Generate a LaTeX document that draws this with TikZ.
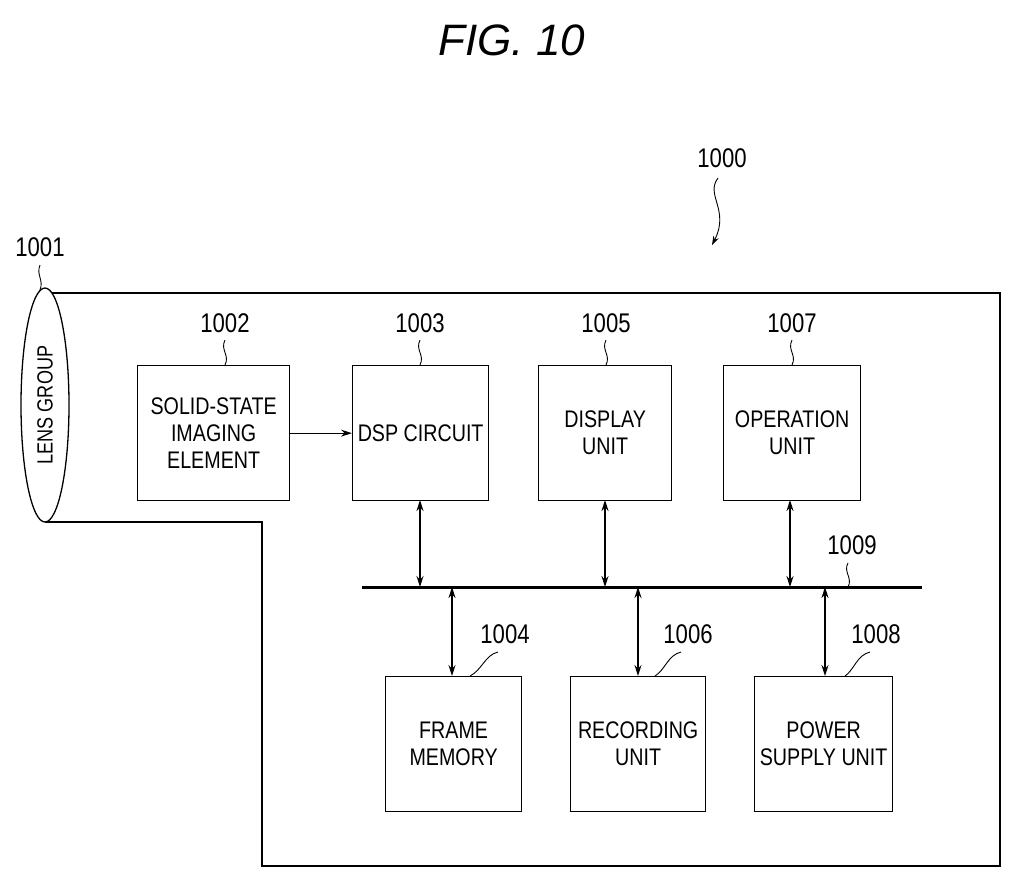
\documentclass[tikz,border=0pt]{standalone}
\usepackage{fontspec}
\setmainfont{Liberation Sans}[FakeStretch=0.82]
\newfontfamily\titlefont{Liberation Sans}
\usetikzlibrary{arrows.meta,shapes.geometric}
\begin{document}
\begin{tikzpicture}[x=1pt,y=-1pt,
  box/.style={draw,line width=1.3pt,align=center,font=\fontsize{24}{27}\selectfont},
  lbl/.style={font=\fontsize{27}{30}\selectfont},
  lead/.style={line width=0.9pt},
  arr/.style={line width=1.3pt,{Stealth[length=11pt,width=7pt]}-{Stealth[length=11pt,width=7pt]}}]
\useasboundingbox (0,0) rectangle (1024,879);
\node[font=\titlefont\itshape\fontsize{44}{48}\selectfont] (title) at (512,40) {FIG. 10};
\draw[line width=1.3pt] (45,293) -- (1000,293) -- (1000,866) -- (262,866) -- (262,522) -- (45,522);
\node[draw,ellipse,line width=1.3pt,fill=white,minimum width=48pt,minimum height=234pt] (lens) at (45,405) {};
\node[rotate=90,font=\fontsize{22}{24}\selectfont] (lenst) at (45,405) {LENS GROUP};
\node[box,minimum width=152pt,minimum height=135pt,anchor=north west] (b1002) at (137,365) {SOLID-STATE\\IMAGING\\ELEMENT};
\node[box,minimum width=136pt,minimum height=135pt,anchor=north west] (b1003) at (352,365) {DSP CIRCUIT};
\node[box,minimum width=133pt,minimum height=135pt,anchor=north west] (b1005) at (538,365) {DISPLAY\\UNIT};
\node[box,minimum width=137pt,minimum height=135pt,anchor=north west] (b1007) at (723,365) {OPERATION\\UNIT};
\node[box,minimum width=136pt,minimum height=135pt,anchor=north west] (b1004) at (385,676) {FRAME\\MEMORY};
\node[box,minimum width=135pt,minimum height=135pt,anchor=north west] (b1006) at (570,676) {RECORDING\\UNIT};
\node[box,minimum width=138pt,minimum height=135pt,anchor=north west] (b1008) at (754,676) {POWER\\SUPPLY UNIT};
\coordinate (busL) at (362,587); \coordinate (busR) at (922,587);
\draw[line width=3pt] (busL) -- (busR);
\draw[line width=1.3pt,-{Stealth[length=11pt,width=7pt]}] (b1002.east) -- (b1003.west);
\draw[arr] (420,500) -- (420,587);
\draw[arr] (605,500) -- (605,587);
\draw[arr] (790,500) -- (790,587);
\draw[arr] (452,587) -- (452,676);
\draw[arr] (638,587) -- (638,676);
\draw[arr] (825,587) -- (825,676);
\node[lbl] (n1001) at (40,247) {1001};
\node[lbl] (n1002) at (225,323) {1002};
\node[lbl] (n1003) at (420,323) {1003};
\node[lbl] (n1005) at (606,323) {1005};
\node[lbl] (n1007) at (792,323) {1007};
\node[lbl] (n1009) at (852,545) {1009};
\node[lbl] (n1004) at (505,634) {1004};
\node[lbl] (n1006) at (688,634) {1006};
\node[lbl] (n1008) at (876,634) {1008};
\node[lbl] (n1000) at (722,158) {1000};
\draw[lead] (40,265) .. controls (36,275) and (44,280) .. (40,290);
\draw[lead] (225,340) .. controls (220,350) and (230,355) .. (225,365);
\draw[lead] (420,340) .. controls (415,350) and (425,355) .. (420,365);
\draw[lead] (606,340) .. controls (601,350) and (611,355) .. (606,365);
\draw[lead] (792,340) .. controls (787,350) and (797,355) .. (792,365);
\draw[lead] (848,563) .. controls (843,572) and (853,578) .. (848,587);
\draw[lead] (498,652) .. controls (485,655) and (482,670) .. (470,676);
\draw[lead] (681,652) .. controls (668,655) and (665,670) .. (655,676);
\draw[lead] (870,652) .. controls (857,655) and (854,670) .. (845,676);
\draw[lead,-{Stealth[length=9pt,width=6pt]}] (718,178) .. controls (705,195) and (730,210) .. (712,245);
\end{tikzpicture}
\end{document}
